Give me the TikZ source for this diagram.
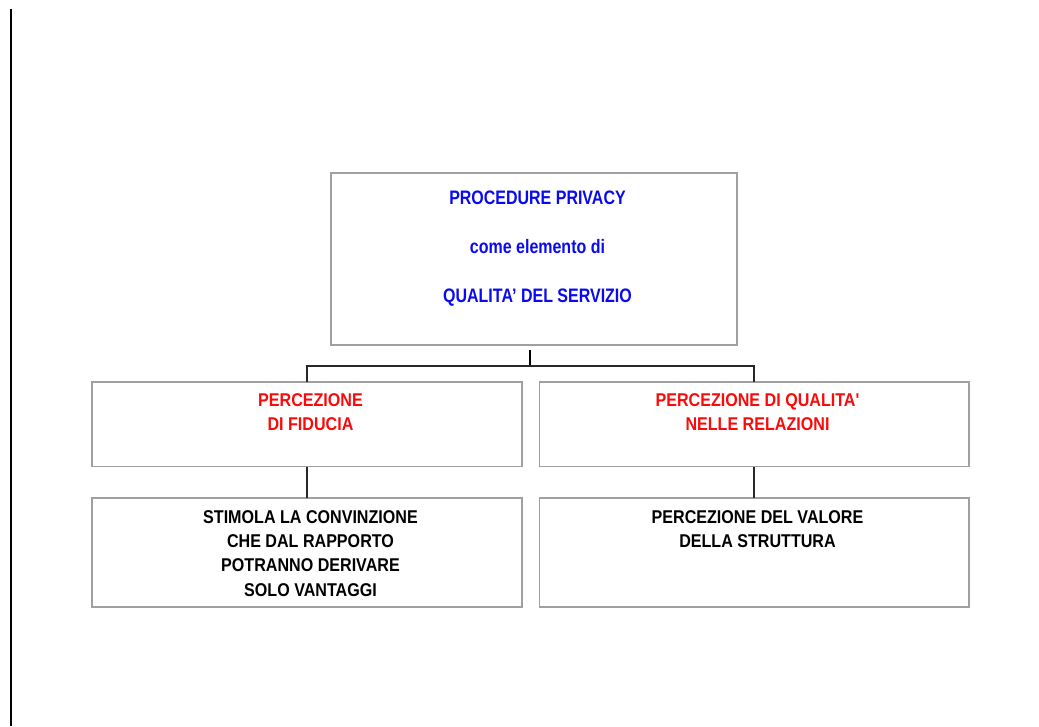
\documentclass[tikz,border=0pt]{standalone}
\usepackage{fontspec}
\setmainfont{Liberation Sans}[Ligatures=TeXOff]
\newfontfamily\bluef{Liberation Sans}[FakeStretch=0.82,Ligatures=TeXOff]
\newfontfamily\regf{Liberation Sans}[FakeStretch=0.87,Ligatures=TeXOff]
\definecolor{boxgray}{RGB}{160,160,160}
\definecolor{linegray}{RGB}{40,40,40}
\definecolor{txtblue}{RGB}{10,10,240}
\definecolor{txtred}{RGB}{250,10,10}
\newcommand{\bxt}[4]{\hspace*{7pt}\parbox[c][#2][t]{\dimexpr#1-7pt\relax}{\centering\vspace*{#3}#4}}
\tikzset{
  box/.style={draw=boxgray,line width=1.6pt,inner sep=0pt,outer sep=0pt,fill=white},
  conn/.style={draw=linegray,line width=1.4pt},
  bluet/.style={font=\bluef\bfseries\fontsize{19.5}{49}\selectfont,text=txtblue},
  redt/.style={font=\regf\bfseries\fontsize{18.5}{24.2}\selectfont,text=txtred},
  blackt/.style={font=\regf\bfseries\fontsize{18.5}{24.2}\selectfont,text=black}
}
\begin{document}
\begin{tikzpicture}[x=1pt,y=-1pt]
\useasboundingbox[fill=white] (0,0) rectangle (1039,726);
% left vertical rule
\draw[line width=2pt,black] (11,9) -- (11,726);
% boxes
\node[box,bluet] (top) at (534,259) {\bxt{406pt}{172pt}{18pt}{PROCEDURE PRIVACY\\come elemento di\\QUALITA’ DEL SERVIZIO}};
\node[box,redt] (m1) at (307,424.3) {\bxt{430pt}{84.7pt}{11.9pt}{PERCEZIONE\\DI FIDUCIA}};
\node[box,redt] (m2) at (754,424.3) {\bxt{429.4pt}{84.7pt}{11.9pt}{PERCEZIONE DI QUALITA'\\NELLE RELAZIONI}};
\node[box,blackt] (b1) at (307,552.5) {\bxt{430pt}{109pt}{12.5pt}{STIMOLA LA CONVINZIONE\\CHE DAL RAPPORTO\\POTRANNO DERIVARE\\SOLO VANTAGGI}};
\node[box,blackt] (b2) at (754,552.5) {\bxt{429.4pt}{109pt}{12.5pt}{PERCEZIONE DEL VALORE\\DELLA STRUTTURA}};
% connectors
\coordinate (j) at (530,366);
\coordinate (s) at (530,350);
\draw[conn,black] (s) -- (j);
\draw[conn] (m1.north) -- (m1.north |- j) -- (m2.north |- j) -- (m2.north);
\draw[conn] (m1.south) -- (b1.north);
\draw[conn] (m2.south) -- (b2.north);
\end{tikzpicture}
\end{document}
